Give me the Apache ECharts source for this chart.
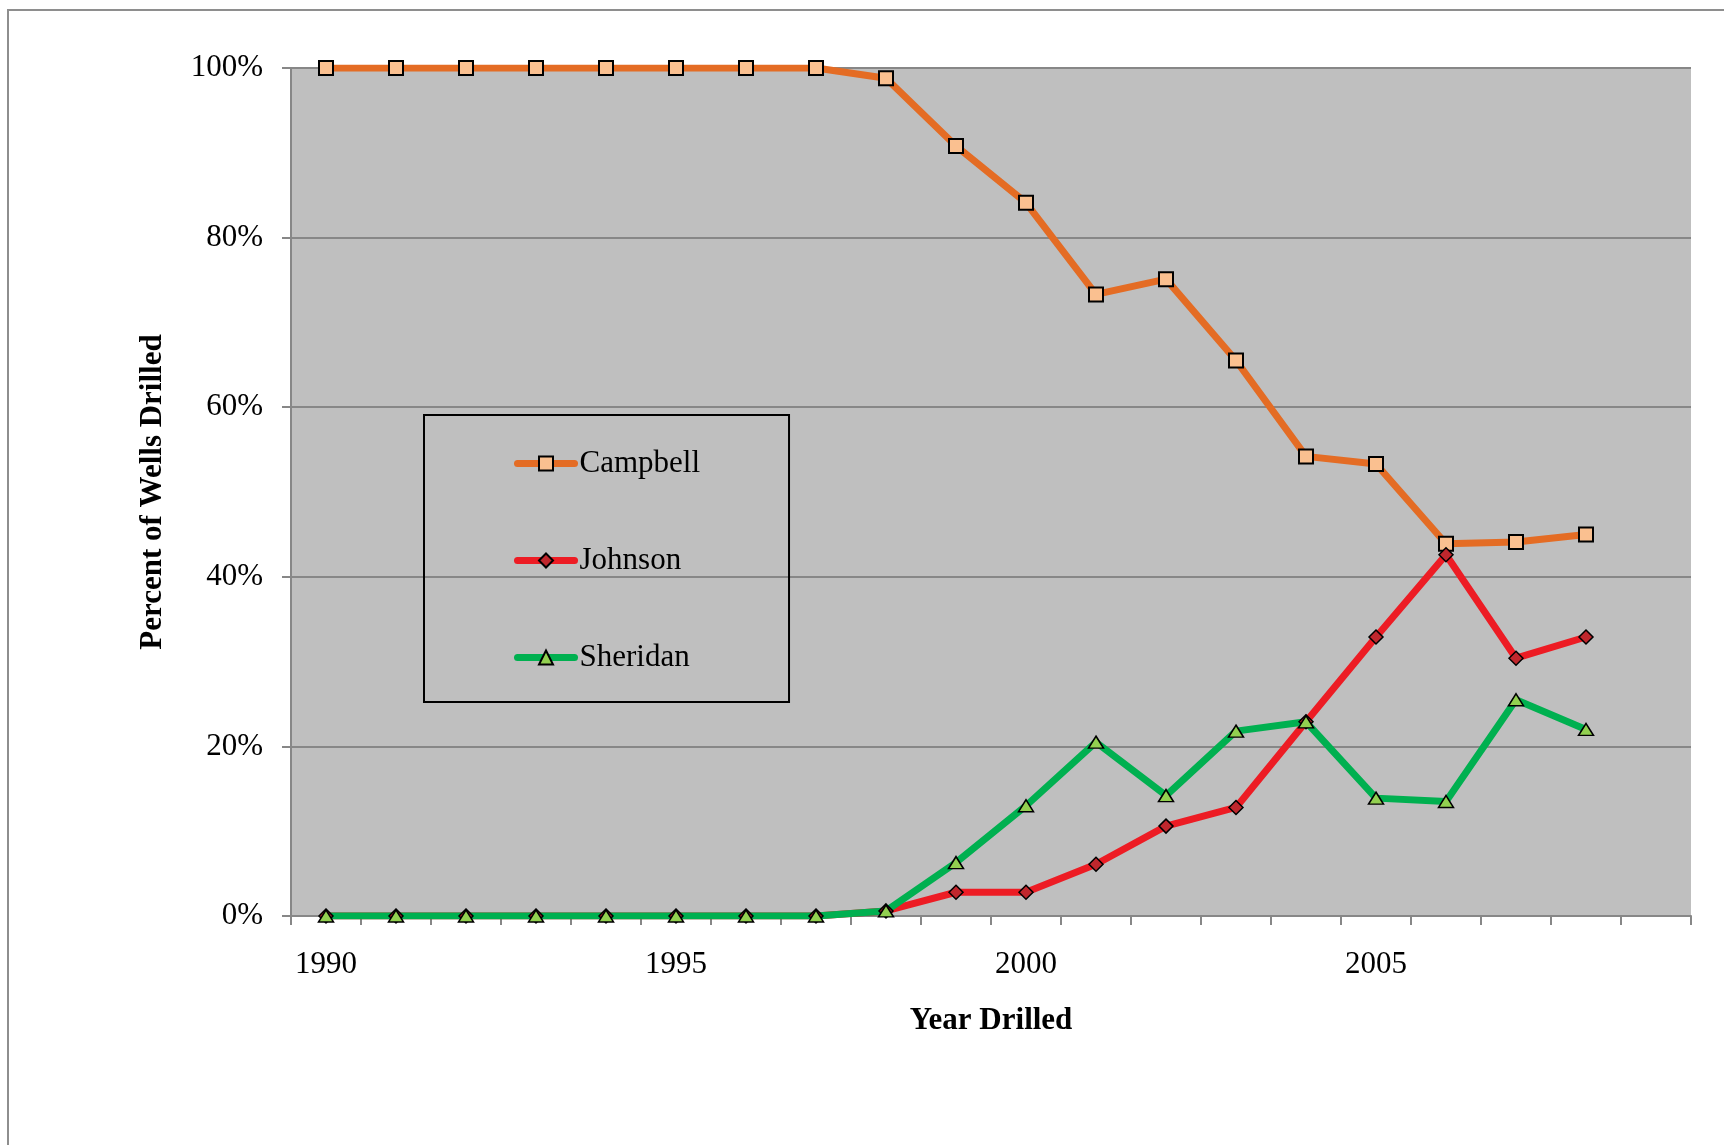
<!DOCTYPE html>
<html>
<head>
<meta charset="utf-8">
<script src="https://cdn.jsdelivr.net/npm/echarts@6/dist/echarts.min.js"></script>
<style>
html,body{margin:0;padding:0;background:#fff;}
#chart{width:1724px;height:1145px;}
</style>
</head>
<body>
<div id="chart"></div>
<script>
const years = ['1990','1991','1992','1993','1994','1995','1996','1997','1998','1999','2000','2001','2002','2003','2004','2005','2006','2007','2008','2009'];
const campbell = [100,100,100,100,100,100,100,100,98.8,90.8,84.1,73.3,75.1,65.5,54.2,53.3,43.9,44.1,45.0];
const johnson  = [0,0,0,0,0,0,0,0,0.6,2.8,2.8,6.1,10.6,12.8,22.9,32.9,42.6,30.4,32.9];
const sheridan = [0,0,0,0,0,0,0,0,0.6,6.3,13.0,20.5,14.2,21.8,22.9,13.9,13.5,25.5,22.0];
const yTicks = {min:0, max:100, interval:20};

const FONT = '"Liberation Serif", "Times New Roman", serif';
const GRID_COLOR = '#878787';

const chart = echarts.init(document.getElementById('chart'), null, {renderer:'canvas'});
chart.setOption({
  animation:false,
  backgroundColor:'#ffffff',
  graphic:[{
    type:'rect', z:-10, silent:true,
    shape:{x:8, y:10, width:1760, height:1180},
    style:{fill:'none', stroke:'#8e8e8e', lineWidth:2}
  }],
  grid:{left:291, right:33, top:68, bottom:229, show:true, backgroundColor:'#BFBFBF', borderWidth:0},
  legend:{
    orient:'vertical', left:424, top:415,
    padding:[33,89,29,90], itemGap:66,
    itemWidth:57, itemHeight:17.5,
    borderColor:'#000', borderWidth:2, backgroundColor:'transparent',
    textStyle:{fontFamily:FONT, fontSize:31, color:'#000', lineHeight:30},
    lineStyle:{width:7, cap:'round'},
    data:['Campbell','Johnson','Sheridan']
  },
  xAxis:{
    type:'category', data:years, boundaryGap:true,
    name:'Year Drilled', nameLocation:'middle', nameGap:89,
    nameTextStyle:{fontFamily:FONT, fontSize:31, fontWeight:'bold', color:'#000'},
    axisLine:{lineStyle:{color:GRID_COLOR, width:2}},
    axisTick:{show:true, interval:0, length:9, lineStyle:{color:GRID_COLOR, width:2}},
    axisLabel:{interval:4, margin:33, fontFamily:FONT, fontSize:31, color:'#000'},
    splitLine:{show:false}
  },
  yAxis:{
    type:'value', min:yTicks.min, max:yTicks.max, interval:yTicks.interval,
    name:'Percent of Wells Drilled', nameLocation:'middle', nameGap:123, nameRotate:90,
    nameTextStyle:{fontFamily:FONT, fontSize:31, fontWeight:'bold', color:'#000'},
    axisLine:{show:true, lineStyle:{color:GRID_COLOR, width:2}},
    axisTick:{show:true, length:9, lineStyle:{color:GRID_COLOR, width:2}},
    axisLabel:{formatter:'{value}%', margin:28, fontFamily:FONT, fontSize:31, color:'#000'},
    splitLine:{show:true, lineStyle:{color:GRID_COLOR, width:2}}
  },
  series:[
    {name:'Campbell', type:'line', data:campbell, symbol:'rect', symbolSize:14, showAllSymbol:true,
     lineStyle:{color:'#E46C24', width:7}, itemStyle:{color:'#FAC090', borderColor:'#000', borderWidth:2}},
    {name:'Johnson', type:'line', data:johnson, symbol:'diamond', symbolSize:14, showAllSymbol:true,
     lineStyle:{color:'#ED1C24', width:7}, itemStyle:{color:'#C0272D', borderColor:'#000', borderWidth:1.5}},
    {name:'Sheridan', type:'line', data:sheridan, symbol:'triangle', symbolSize:[15,12], showAllSymbol:true,
     lineStyle:{color:'#00B050', width:7}, itemStyle:{color:'#92D050', borderColor:'#000', borderWidth:1.5}}
  ]
});
</script>
</body>
</html>
